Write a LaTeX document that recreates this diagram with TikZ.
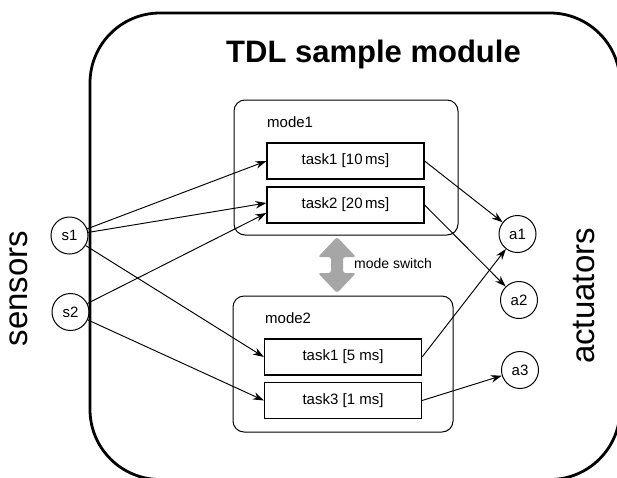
\documentclass[tikz,border=0pt]{standalone}
\usepackage{fontspec}
\setmainfont{Liberation Sans}
\usetikzlibrary{arrows.meta}

\tikzset{
  module/.style={line width=2.8pt, rounded corners=70pt},
  modebox/.style={line width=1pt, rounded corners=11pt},
  taskbox/.style={draw, line width=1.2pt, minimum width=157pt, minimum height=36pt,
    inner sep=0pt, font=\fontsize{15}{17}\selectfont},
  port/.style={draw, circle, line width=1pt, minimum size=37pt, inner sep=0pt,
    font=\fontsize{15}{17}\selectfont},
  flow/.style={line width=0.95pt, -{Stealth[length=11pt,width=7.5pt]}},
  sidelabel/.style={rotate=90, font=\fontsize{33}{36}\selectfont},
  modelabel/.style={anchor=base west, inner sep=0pt, font=\fontsize{15}{17}\selectfont},
}

\begin{document}
\begin{tikzpicture}[x=1pt, y=-1pt]
  \useasboundingbox (0,0) rectangle (617,477);
  \clip (0,0) rectangle (617,477);
  \fill[white] (0,0) rectangle (617,477);

  % module frame and title
  \draw[module] (90,13) rectangle (620,479.5);
  \node[anchor=base, inner sep=0pt, font=\bfseries\fontsize{31}{34}\selectfont]
    (title) at (373.5,62) {TDL sample module};

  % the two modes
  \draw[modebox] (234,100) rectangle (458,235);
  \node[modelabel] (m1) at (267,127) {mode1};
  \draw[modebox] (233,296) rectangle (453,432);
  \node[modelabel] (m2) at (265,323) {mode2};

  % tasks
  \node[taskbox] (t11) at (345.5,161)   {task1 [10\,ms]};
  \node[taskbox] (t12) at (345.5,205)   {task2 [20\,ms]};
  \node[taskbox] (t21) at (343,357)     {task1 [5 ms]};
  \node[taskbox] (t23) at (343,400.5)   {task3 [1 ms]};

  % sensors and actuators
  \node[port] (s1) at (69.5,235.5) {s1};
  \node[port] (s2) at (70.5,312)   {s2};
  \node[port] (a1) at (517.5,234)  {a1};
  \node[port] (a2) at (519,300)    {a2};
  \node[port] (a3) at (520,370)    {a3};

  \node[sidelabel] (sens) at (19,288.5) {sensors};
  \node[sidelabel] (act)  at (584,296)  {actuators};

  % mode switch double arrow
  \fill[gray!70, rounded corners=2.5pt]
    (337,237) -- (356,257) -- (343,257) -- (343,273) -- (356,273)
    -- (337,293) -- (318,273) -- (331,273) -- (331,257) -- (318,257) -- cycle;
  \node[anchor=base west, inner sep=0pt, font=\fontsize{14}{16}\selectfont]
    (ms) at (354,268) {mode switch};

  % data flow
  \draw[flow] (s1) -- (t11.west);
  \draw[flow] (s1) -- ([yshift=2pt]t12.west);
  \draw[flow] (s2) -- ([yshift=-8pt]t12.west);
  \draw[flow] (s1) -- (t21.west);
  \draw[flow] (s2) -- (t23.west);
  \draw[flow] (t11.east) -- (a1);
  \draw[flow] (t12.east) -- (a2);
  \draw[flow] (t21.east) -- (a1);
  \draw[flow] (t23.east) -- (a3);
\end{tikzpicture}
\end{document}
